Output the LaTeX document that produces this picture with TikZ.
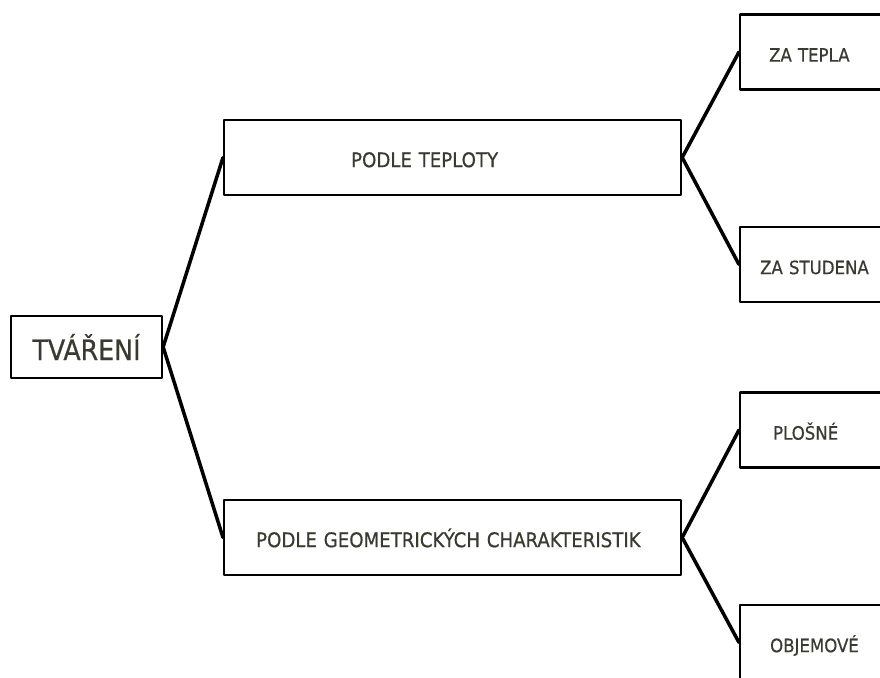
\documentclass[tikz,border=0pt]{standalone}
\usepackage{fontspec}
\newfontfamily\isofont[FakeBold=0.6]{DejaVu Sans Condensed}
\usetikzlibrary{positioning}
\definecolor{DiagramInk}{HTML}{3A3A30}

\begin{document}
\begin{tikzpicture}[x=0.02cm,y=-0.02cm,line cap=round,line join=round,
  box/.style={draw,line width=1.3pt,anchor=west,align=left,minimum height=1.5cm,
    text height=12pt,text depth=1pt,
    text=DiagramInk,font=\isofont\fontsize{11.5}{13}\selectfont},
  leaf/.style={box,text width=4cm,font=\isofont\fontsize{10.5}{12}\selectfont},
  link/.style={line width=2pt}]
  \useasboundingbox (0,0) rectangle (880,677);
  \clip (0,0) rectangle (880,677);
  \node[draw,line width=1.3pt,minimum width=3.02cm,minimum height=1.24cm,text=DiagramInk,
    font=\isofont\fontsize{16}{18}\selectfont] (tvareni) at (86.5,347) {TVÁŘENÍ};
  \node[box,inner xsep=2.54cm,text width=4.06cm] (teplota) at (223,157.5) {PODLE TEPLOTY};
  \node[box,inner xsep=0.64cm,text width=7.86cm] (geometrie) at (223,537.5) {PODLE GEOMETRICKÝCH CHARAKTERISTIK};
  \node[leaf,inner xsep=0.58cm] (tepla) at (739,52) {ZA TEPLA};
  \node[leaf,inner xsep=0.4cm] (studena) at (739,264.5) {ZA STUDENA};
  \node[leaf,inner xsep=0.66cm] (plosne) at (739,430) {PLOŠNÉ};
  \node[leaf,inner xsep=0.6cm] (objemove) at (739,642.5) {OBJEMOVÉ};
  \draw[link] (teplota.west) -- (tvareni.east) -- (geometrie.west);
  \draw[link] (tepla.west) -- (teplota.east) -- (studena.west);
  \draw[link] (plosne.west) -- (geometrie.east) -- (objemove.west);
\end{tikzpicture}
\end{document}
